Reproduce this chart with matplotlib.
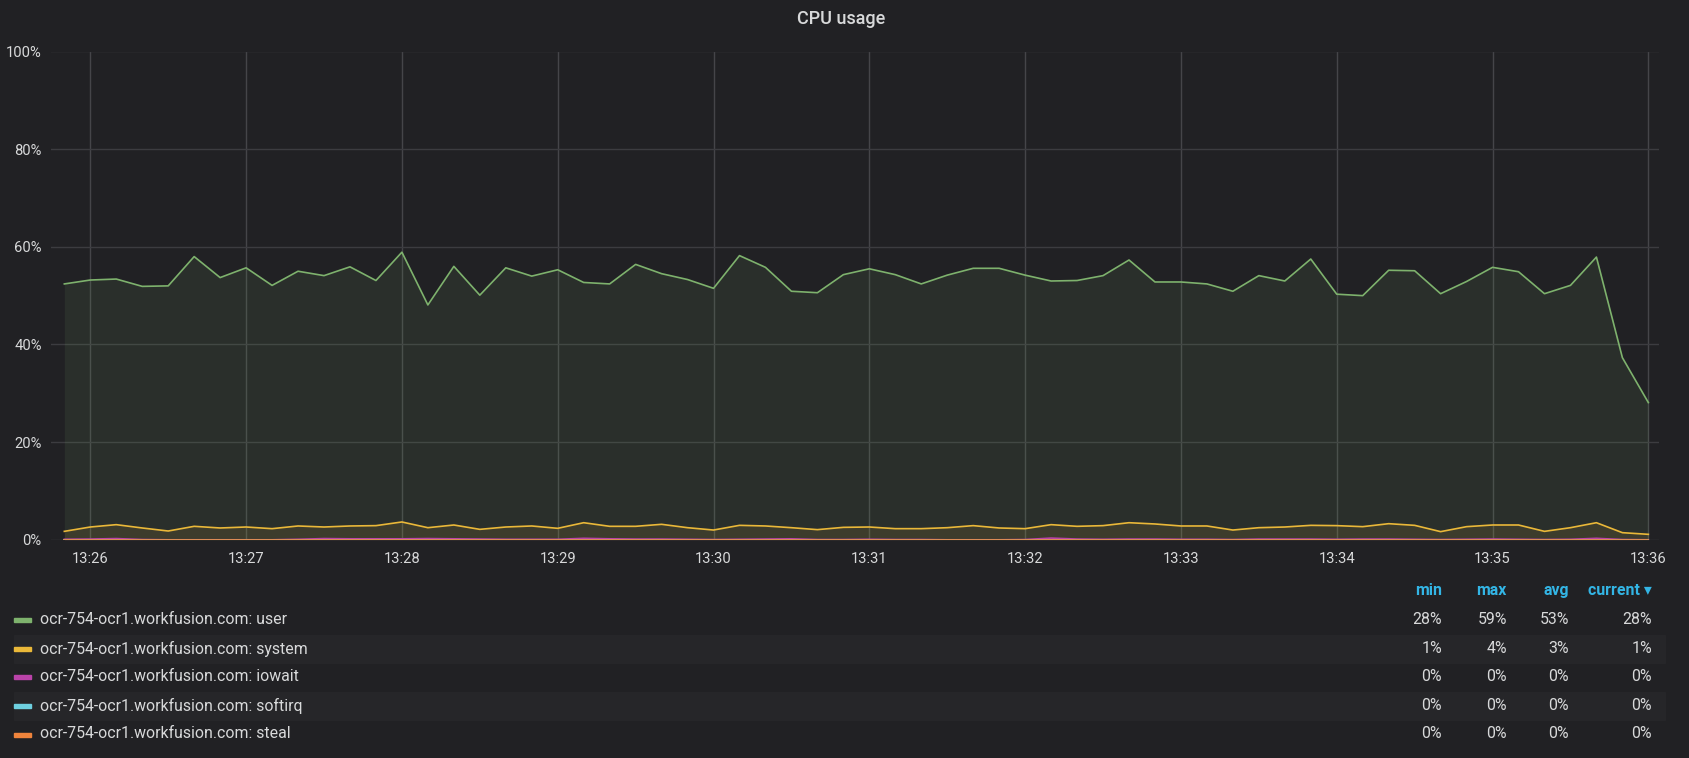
import numpy as np
import pandas as pd
import matplotlib
matplotlib.use("Agg")
import matplotlib.pyplot as plt
import matplotlib.dates as mdates
from matplotlib.patches import Rectangle

# una muestra cada 10 s, de 13:25:50 a 13:36:00
times = pd.date_range("2019-01-01 13:25:50", periods=62, freq="10s")

user = [52.4, 53.2, 53.4, 51.9, 52.0, 58.0, 53.7, 55.7, 52.1, 55.0, 54.1, 55.9, 53.1, 58.9, 48.1, 56.0,
        50.1, 55.7, 54.0, 55.3, 52.7, 52.4, 56.4, 54.5, 53.3, 51.5, 58.2, 55.8, 50.9, 50.6, 54.3,
        55.5, 54.3, 52.4, 54.2, 55.6, 55.6, 54.2, 53.0, 53.1, 54.1, 57.3, 52.8, 52.8, 52.4, 50.9,
        54.1, 53.0, 57.5, 50.3, 50.0, 55.2, 55.1, 50.4, 52.9, 55.8, 54.9, 50.4, 52.1, 57.9, 37.3, 28.1]

system = [1.73, 2.62, 3.10, 2.42, 1.80, 2.76, 2.42, 2.62, 2.28, 2.83, 2.62, 2.83, 2.90, 3.65, 2.48, 3.03,
          2.14, 2.62, 2.83, 2.35, 3.50, 2.76, 2.76, 3.17, 2.48, 2.00, 2.96, 2.83, 2.48, 2.08, 2.55,
          2.62, 2.28, 2.28, 2.48, 2.90, 2.42, 2.28, 3.10, 2.76, 2.90, 3.50, 3.24, 2.83, 2.83, 2.00,
          2.48, 2.62, 2.96, 2.90, 2.69, 3.30, 2.96, 1.67, 2.69, 3.03, 3.03, 1.73, 2.48, 3.50, 1.46, 1.12]

iowait = [0.10, 0.15, 0.25, 0.05, 0.00, 0.00, 0.00, 0.00, 0.00, 0.10, 0.25, 0.20, 0.20, 0.20, 0.25, 0.20,
          0.15, 0.10, 0.10, 0.10, 0.30, 0.20, 0.15, 0.15, 0.10, 0.05, 0.10, 0.15, 0.20, 0.05, 0.05,
          0.10, 0.05, 0.05, 0.00, 0.00, 0.00, 0.05, 0.35, 0.15, 0.10, 0.15, 0.15, 0.10, 0.10, 0.05,
          0.15, 0.15, 0.15, 0.10, 0.15, 0.15, 0.10, 0.05, 0.10, 0.15, 0.10, 0.05, 0.10, 0.30, 0.05, 0.00]

softirq = [0.0, 0.0, 0.0, 0.0, 0.0, 0.0, 0.0, 0.0, 0.0, 0.0, 0.0, 0.0, 0.0, 0.0, 0.0, 0.0,
           0.0, 0.0, 0.0, 0.0, 0.0, 0.0, 0.0, 0.0, 0.0, 0.0, 0.0, 0.0, 0.0, 0.0, 0.0,
           0.0, 0.0, 0.0, 0.0, 0.0, 0.0, 0.0, 0.0, 0.0, 0.0, 0.0, 0.0, 0.0, 0.0, 0.0,
           0.0, 0.0, 0.0, 0.0, 0.0, 0.0, 0.0, 0.0, 0.0, 0.0, 0.0, 0.0, 0.0, 0.0, 0.0, 0.0]

steal = [0.0, 0.0, 0.0, 0.0, 0.0, 0.0, 0.0, 0.0, 0.0, 0.0, 0.0, 0.0, 0.0, 0.0, 0.0, 0.0,
         0.0, 0.0, 0.0, 0.0, 0.0, 0.0, 0.0, 0.0, 0.0, 0.0, 0.0, 0.0, 0.0, 0.0, 0.0,
         0.0, 0.0, 0.0, 0.0, 0.0, 0.0, 0.0, 0.0, 0.0, 0.0, 0.0, 0.0, 0.0, 0.0, 0.0,
         0.0, 0.0, 0.0, 0.0, 0.0, 0.0, 0.0, 0.0, 0.0, 0.0, 0.0, 0.0, 0.0, 0.0, 0.0, 0.0]

host = "ocr-754-ocr1.workfusion.com"
names = ["user", "system", "iowait", "softirq", "steal"]
colors = ["#7eb26d", "#eab839", "#ba43a9", "#6ed0e0", "#ef843c"]
series = [user, system, iowait, softirq, steal]

y_ticks = [0, 20, 40, 60, 80, 100]

BG = "#212124"
TXT = "#d8d9da"
BLUE = "#33b5e5"
W, H = 1690, 758

plt.rcParams['font.family'] = ['Roboto', 'DejaVu Sans']


def fx(px):
    return px / W


def fy(py):
    return 1 - py / H


fig = plt.figure(figsize=(W / 100, H / 100), dpi=100, facecolor=BG)

ax = fig.add_axes([fx(50.7), fy(539.8), (1659 - 50.7) / W, (539.8 - 51.5) / H])
ax.set_facecolor(BG)

for vals, col in zip(series, colors):
    ax.fill_between(times, 0, vals, color=col, alpha=0.1, linewidth=0)
    ax.plot(times, vals, color=col, linewidth=1.2)

ax.set_ylim(0, 100)
ax.set_yticks(y_ticks)
ax.set_yticklabels([f"{t}%" for t in y_ticks])
ax.set_xlim(pd.Timestamp("2019-01-01 13:25:44.75"), pd.Timestamp("2019-01-01 13:36:04.1"))
ax.xaxis.set_major_locator(mdates.MinuteLocator())
ax.xaxis.set_major_formatter(mdates.DateFormatter("%H:%M"))

ax.grid(True, color="#3c3c40", linewidth=1)
ax.xaxis.grid(True, color="#454549", linewidth=1)
ax.set_axisbelow(True)
for s in ax.spines.values():
    s.set_visible(False)
ax.tick_params(axis="both", length=0, colors=TXT, labelsize=10.6)
ax.tick_params(axis="y", pad=6.5)
ax.tick_params(axis="x", pad=9)

fig.text(fx(841), fy(19), "CPU usage", ha="center", va="center", color=TXT,
         fontsize=13, fontweight="medium")

# leyenda tipo tabla
col_right = [1442, 1507, 1569, 1652]
headers = ["min", "max", "avg", "current \u25be"]
header_y = 590.6
row_y = [619.7, 648.8, 676.9, 705.9, 734.0]
row_h = 28.5

for h, xr in zip(headers, col_right):
    fig.text(fx(xr), fy(header_y), h, ha="right", va="center", color=BLUE,
             fontsize=11.4, fontweight="bold")

for i, (name, col, vals) in enumerate(zip(names, colors, series)):
    y = row_y[i]
    if i % 2 == 1:
        fig.patches.append(Rectangle((fx(14), fy(y + row_h / 2)), (1665 - 14) / W, row_h / H,
                                     transform=fig.transFigure, color="#262629", zorder=0))
    fig.patches.append(Rectangle((fx(14), fy(y + 2.5)), 16.7 / W, 4 / H,
                                 transform=fig.transFigure, color=col, zorder=1))
    fig.text(fx(40), fy(y), f"{host}: {name}", ha="left", va="center", color=TXT, fontsize=11.4)
    v = np.array(vals)
    stats = [v.min(), v.max(), v.mean(), v[-1]]
    for s, xr in zip(stats, col_right):
        fig.text(fx(xr), fy(y), f"{s:.0f}%", ha="right", va="center", color=TXT, fontsize=11.4)

fig.savefig("out.png", dpi=100, facecolor=BG)
